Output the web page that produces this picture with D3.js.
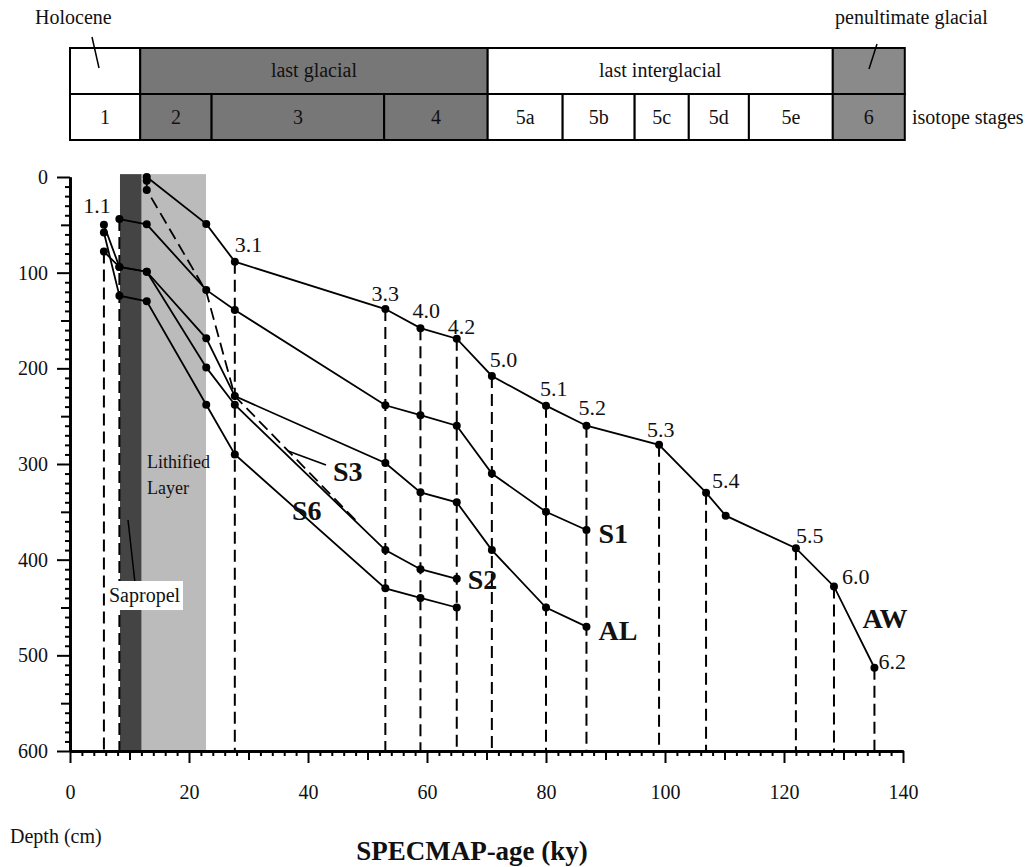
<!DOCTYPE html>
<html><head><meta charset="utf-8">
<script src="https://cdn.jsdelivr.net/npm/d3@7"></script>
<style>body{margin:0;background:#fff} svg{display:block} text{font-family:"Liberation Serif","Times New Roman",serif;fill:#111}</style>
</head><body><svg id="c" width="1031" height="867"></svg>
<script>
// ---------- data ----------
const stageBounds  = [0, 11.8, 23.8, 52.8, 70.2, 82.8, 94.9, 104, 114.1, 128.2, 140.3];
const stageLabels  = ["1","2","3","4","5a","5b","5c","5d","5e","6"];
const stageGlacial = [false,true,true,true,false,false,false,false,false,true];
const periodBounds  = [0, 11.8, 70.2, 128.2, 140.3];
const periodLabels  = ["", "last glacial", "last interglacial", ""];
const periodGlacial = [false, true, false, true];

const sapropelAges  = [8.4, 12.05];
const lithifiedAges = [12.05, 22.86];

const eventAges      = [5.7, 8.3, 27.7, 53.0, 58.9, 65.0, 70.9, 80.0, 86.8, 99.0, 106.9, 122.0, 128.4, 135.2];
const eventTopDepths = [78, 44, 88.5, 138, 158, 169, 208, 239, 260, 280, 330, 388, 428, 513];

const eventLabels      = ["1.1","3.1","3.3","4.0","4.2","5.0","5.1","5.2","5.3","5.4","5.5","6.0","6.2"];
const eventLabelAges   = [5.7, 27.7, 53.0, 58.9, 65.0, 70.9, 80.0, 86.8, 99.0, 106.9, 122.0, 128.4, 135.2];
const eventLabelDepths = [50, 88.5, 138, 158, 169, 208, 239, 260, 280, 330, 388, 428, 513];

const seriesAW = [[12.9,0],[22.9,49],[27.7,88.5],[53.0,138],[58.9,158],[65.0,169],[70.9,208],[80.0,239],[86.8,260],[99.0,280],[106.9,330],[110.2,354],[122.0,388],[128.4,428],[135.2,513]];
const seriesS1 = [[8.3,44],[12.9,49.5],[22.9,118],[27.7,139],[53.0,238.6],[58.9,249],[65.0,260],[70.9,310],[80.0,350],[86.8,369]];
const seriesS3 = [[12.9,4],[12.9,13.5],[22.9,120],[27.7,229],[48.5,362]];
const seriesAL = [[5.7,78],[8.3,94],[12.9,99],[22.9,168.6],[27.7,229],[53.0,299],[58.9,329.6],[65.0,340],[70.9,390],[80.0,450],[86.8,470]];
const seriesS2 = [[5.7,50],[8.3,94],[12.9,99],[22.9,199],[27.7,238],[53.0,390],[58.9,410],[65.0,420]];
const seriesS6 = [[5.7,58],[8.3,124],[12.9,130],[22.9,238],[27.7,290],[53.0,430],[58.9,440],[65.0,450]];

const xTicksMajor = [0,20,40,60,80,100,120,140];
const yTicksMajor = [0,100,200,300,400,500,600];

// ---------- layout ----------
const svg = d3.select("#c");
const x = d3.scaleLinear().domain([0,140]).range([70,903]);
const y = d3.scaleLinear().domain([0,600]).range([177,751]);
const FONT = 20;

// ---------- stage bar ----------
const barTop = 48, barMid = 94, barBot = 140;
const bar = svg.append("g");
periodLabels.forEach((lab,i)=>{
  const x0 = x(periodBounds[i]), x1 = x(periodBounds[i+1]);
  bar.append("rect").attr("x",x0).attr("y",barTop).attr("width",x1-x0).attr("height",barMid-barTop)
     .attr("fill", periodGlacial[i] ? (i===3?"#8a8a8a":"#777") : "#fff").attr("stroke","#000").attr("stroke-width",2);
  if(lab) bar.append("text").attr("x",(x0+x1)/2).attr("y",barTop+29).attr("text-anchor","middle").attr("font-size",FONT).text(lab);
});
stageLabels.forEach((lab,i)=>{
  const x0 = x(stageBounds[i]), x1 = x(stageBounds[i+1]);
  bar.append("rect").attr("x",x0).attr("y",barMid).attr("width",x1-x0).attr("height",barBot-barMid)
     .attr("fill", stageGlacial[i] ? (i===9?"#8a8a8a":"#777") : "#fff").attr("stroke","#000").attr("stroke-width",2);
  bar.append("text").attr("x",(x0+x1)/2).attr("y",barMid+30).attr("text-anchor","middle").attr("font-size",FONT).text(lab);
});
bar.append("text").attr("x",35).attr("y",24).attr("font-size",FONT).text("Holocene");
bar.append("line").attr("x1",92).attr("y1",37).attr("x2",99).attr("y2",68).attr("stroke","#000").attr("stroke-width",1.5);
bar.append("text").attr("x",835).attr("y",24).attr("font-size",FONT).text("penultimate glacial");
bar.append("line").attr("x1",877).attr("y1",44).attr("x2",869).attr("y2",69).attr("stroke","#000").attr("stroke-width",1.5);
bar.append("text").attr("x",912).attr("y",124).attr("font-size",FONT).text("isotope stages");

// ---------- bands ----------
const bandTop = y(-3), bandBot = y(600);
svg.append("rect").attr("x",x(sapropelAges[0])).attr("y",bandTop).attr("width",x(sapropelAges[1])-x(sapropelAges[0])).attr("height",bandBot-bandTop).attr("fill","#444");
svg.append("rect").attr("x",x(lithifiedAges[0])).attr("y",bandTop).attr("width",x(lithifiedAges[1])-x(lithifiedAges[0])).attr("height",bandBot-bandTop).attr("fill","#bbb");

// ---------- event dashed lines ----------
svg.append("g").selectAll("line").data(eventAges).join("line")
  .attr("x1",d=>x(d)).attr("x2",d=>x(d))
  .attr("y1",(d,i)=>y(eventTopDepths[i])).attr("y2",y(600))
  .attr("stroke","#000").attr("stroke-width",2).attr("stroke-dasharray","12,6");

// ---------- axes ----------
const xMinor = d3.range(0,141,2).filter(v=>v%10!==0);
const xMid = d3.range(10,141,20);
const gx = svg.append("g").attr("transform",`translate(0,${y(600)})`);
gx.append("g").call(d3.axisBottom(x).tickValues(xMinor).tickSize(5).tickFormat("").tickSizeOuter(0));
gx.append("g").call(d3.axisBottom(x).tickValues(xMid).tickSize(9).tickFormat("").tickSizeOuter(0));
gx.append("g").call(d3.axisBottom(x).tickValues(xTicksMajor).tickSize(12).tickPadding(22).tickSizeOuter(0));
gx.selectAll("path.domain").attr("stroke-width",2.5);
gx.selectAll("line").attr("stroke-width",2);
gx.selectAll("text").attr("font-size",FONT).attr("font-family","Liberation Serif").attr("fill","#111");

const yMinor = d3.range(0,601,10).filter(v=>v%50!==0);
const yMid = d3.range(50,601,100);
const gy = svg.append("g").attr("transform",`translate(${x(0)},0)`);
gy.append("g").call(d3.axisLeft(y).tickValues(yMinor).tickSize(5).tickFormat("").tickSizeOuter(0));
gy.append("g").call(d3.axisLeft(y).tickValues(yMid).tickSize(9).tickFormat("").tickSizeOuter(0));
gy.append("g").call(d3.axisLeft(y).tickValues(yTicksMajor).tickSize(13).tickPadding(9).tickSizeOuter(0));
gy.selectAll("path.domain").attr("stroke-width",2.5);
gy.selectAll("line").attr("stroke-width",2);
gy.selectAll("text").attr("font-size",FONT).attr("font-family","Liberation Serif").attr("fill","#111");

// ---------- series ----------
const line = d3.line().x(d=>x(d[0])).y(d=>y(d[1]));
const allSeries = [
  {data:seriesAW, dash:null},
  {data:seriesS1, dash:null},
  {data:seriesAL, dash:null},
  {data:seriesS2, dash:null},
  {data:seriesS6, dash:null},
  {data:seriesS3, dash:"12,6"}
];
const gs = svg.append("g");
allSeries.forEach(s=>{
  gs.append("path").attr("d",line(s.data)).attr("fill","none").attr("stroke","#000").attr("stroke-width",1.8)
    .attr("stroke-dasharray",s.dash);
});
allSeries.forEach((s,k)=>{
  const pts = k===5 ? s.data.slice(0,2) : s.data;
  gs.selectAll(null).data(pts).join("circle").attr("cx",d=>x(d[0])).attr("cy",d=>y(d[1])).attr("r",4).attr("fill","#000");
});

// ---------- event labels ----------
const evOffsets = [[-7,-12,"middle"],[0,-10,"start"],[0,-8,"middle"],[-8,-10,"start"],[-9,-5,"start"],[-2,-9,"start"],[-6,-10,"start"],[-8,-11,"start"],[-12,-8,"start"],[6,-5,"start"],[0,-5,"start"],[8,-2,"start"],[4,1,"start"]];
svg.append("g").selectAll("text").data(eventLabels).join("text")
  .attr("x",(d,i)=>x(eventLabelAges[i])+evOffsets[i][0])
  .attr("y",(d,i)=>y(eventLabelDepths[i])+evOffsets[i][1])
  .attr("text-anchor",(d,i)=>evOffsets[i][2])
  .attr("font-size",22).text(d=>d);

// ---------- series labels ----------
const lab = (t,px,py)=>svg.append("text").attr("x",px).attr("y",py).attr("font-size",28).attr("font-weight","bold").text(t);
const endOf = a=>a[a.length-1];
lab("S1", x(endOf(seriesS1)[0])+12, y(endOf(seriesS1)[1])+13);
lab("AL", x(endOf(seriesAL)[0])+12, y(endOf(seriesAL)[1])+13);
lab("S2", x(endOf(seriesS2)[0])+11, y(endOf(seriesS2)[1])+10);
lab("AW", x(endOf(seriesAW)[0])-12, y(endOf(seriesAW)[1])-40);
lab("S3", 333, 481);
lab("S6", 292, 520);
svg.append("line").attr("x1",288).attr("y1",451).attr("x2",326).attr("y2",465).attr("stroke","#000").attr("stroke-width",1.8);

// band labels
svg.append("text").attr("x",147).attr("y",468).attr("font-size",18).text("Lithified");
svg.append("text").attr("x",147).attr("y",494).attr("font-size",18).text("Layer");
svg.append("line").attr("x1",128).attr("y1",520).attr("x2",135).attr("y2",583).attr("stroke","#000").attr("stroke-width",1.5);
svg.append("rect").attr("x",107).attr("y",581).attr("width",76).attr("height",29).attr("fill","#fff");
svg.append("text").attr("x",109).attr("y",602).attr("font-size",FONT).text("Sapropel");

// axis titles
svg.append("text").attr("x",10).attr("y",843).attr("font-size",FONT).text("Depth (cm)");
svg.append("text").attr("x",472).attr("y",860).attr("text-anchor","middle").attr("font-size",27).attr("font-weight","bold").text("SPECMAP-age (ky)");
</script></body></html>
